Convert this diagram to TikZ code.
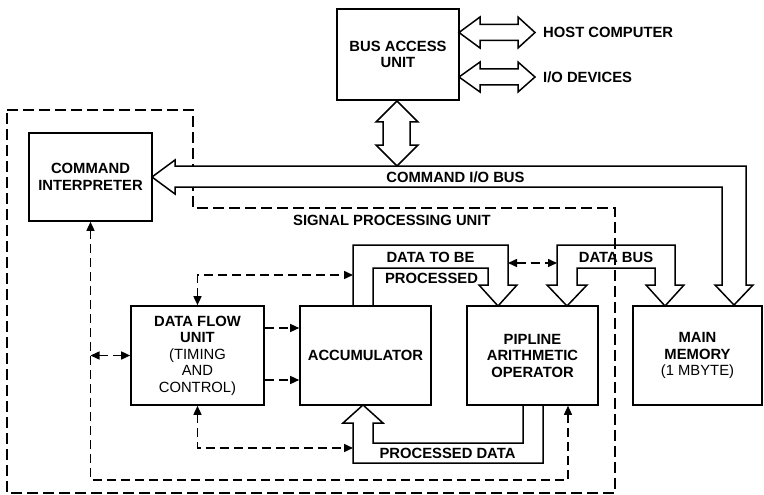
\documentclass[tikz,border=0pt]{standalone}
\usepackage{fontspec}
\setmainfont{Liberation Sans}
\usetikzlibrary{arrows.meta}
\newcommand{\lblf}{\fontsize{14.8}{16.5}\selectfont\bfseries}
\begin{document}
\begin{tikzpicture}[x=1pt,y=-1pt,
  box/.style={draw, line width=1.6pt, inner sep=0pt, align=center, font=\lblf},
  lbl/.style={inner sep=0pt, font=\lblf},
  fat/.style={line width=1.5pt, line join=miter},
  outline/.style={line width=1.5pt, dash pattern=on 11pt off 5pt},
  dar/.style={line width=1.5pt, dash pattern=on 9pt off 5pt, >={Triangle[length=9pt,width=8pt]}}]
\useasboundingbox (0,0) rectangle (764,495);

% signal processing unit outline
\draw[outline] (7,110) -- (193,110) -- (193,208) -- (615,208) -- (615,493) -- (7,493) -- cycle;

% boxes
\node[box, minimum width=122pt, minimum height=91pt] (bau) at (398,54.5) {BUS ACCESS\\UNIT};
\node[box, minimum width=123pt, minimum height=88pt] (ci) at (90.5,177) {COMMAND\\INTERPRETER};
\node[box, minimum width=133pt, minimum height=99pt] (dfu) at (197.5,355.5) {DATA FLOW\\UNIT\\\mdseries (TIMING\\\mdseries AND\\\mdseries CONTROL)};
\node[box, minimum width=131pt, minimum height=99pt] (acc) at (365.5,355.5) {ACCUMULATOR};
\node[box, minimum width=131pt, minimum height=99pt] (pao) at (532.5,355.5) {PIPLINE\\ARITHMETIC\\OPERATOR};
\node[box, minimum width=129pt, minimum height=99pt] (mm) at (697.5,355.5) {MAIN\\MEMORY\\\mdseries (1 MBYTE)};

% command I/O bus
\draw[fat, fill=white] (152,177) -- (175,160) -- (175,166) -- (746,166) -- (746,285) -- (753,285)
  -- (734,305) -- (715,285) -- (722,285) -- (722,187) -- (175,187) -- (175,194) -- cycle;

% bus access double arrows
\draw[fat, fill=white] (397,101) -- (418,122) -- (410,122) -- (410,145) -- (418,145) -- (397,166)
  -- (376,145) -- (383,145) -- (383,122) -- (376,122) -- cycle;
\draw[fat] (459,32.5) -- (480,17) -- (480,24.5) -- (518,24.5) -- (518,17) -- (535,32.5)
  -- (518,48) -- (518,40.5) -- (480,40.5) -- (480,48) -- cycle;
\draw[fat] (459,77) -- (480,62) -- (480,69) -- (518,69) -- (518,62) -- (535,77)
  -- (518,92) -- (518,85) -- (480,85) -- (480,92) -- cycle;

% data to be processed
\coordinate (dtbO) at (353,245);
\coordinate (dtbR) at (508,245);
\draw[fat] (353,306) -- (dtbO) -- (dtbR) -- (508,285) -- (517,285) -- (498,306) -- (479,285)
  -- (488,285) -- (488,268) -- (373,268) -- (373,306);

% data bus
\coordinate (dbL) at (557,245);
\draw[fat] (577,285) -- (587,285) -- (567,306) -- (547,285) -- (557,285) -- (dbL) -- (675,245)
  -- (675,285) -- (684,285) -- (665,306) -- (646,285) -- (655,285) -- (655,268) -- (577,268) -- cycle;

% processed data
\coordinate (pdO) at (353,463);
\draw[fat] (523,405) -- (523,443) -- (373,443) -- (373,423) -- (383,423) -- (363,405)
  -- (343,423) -- (353,423) -- (pdO) -- (543,463) -- (543,405);

% dashed control connectors
\draw[dar,<->] (dfu.north) |- (dtbO |- 0,275);
\draw[dar,<->] (dfu.south) |- (pdO |- 0,448);
\draw[dar,<->] (ci.south |- dfu.west) -- (dfu.west);
\draw[dar,<->] (ci.south) -- (ci.south |- 0,480) -| ([xshift=35.5pt]pao.south);
\draw[dar,->] (dfu.east |- 0,328) -- (acc.west |- 0,328);
\draw[dar,->] (dfu.east |- 0,380) -- (acc.west |- 0,380);
\draw[dar,<->] (dtbR |- 0,263) -- (dbL |- 0,263);

% labels
\node[lbl, anchor=west] (hc) at (543,32.5) {HOST COMPUTER};
\node[lbl, anchor=west] (io) at (543,77) {I/O DEVICES};
\node[lbl] (cbus) at (455.5,177) {COMMAND I/O BUS};
\node[lbl, anchor=west] (spu) at (293,220) {SIGNAL PROCESSING UNIT};
\node[lbl] (dtb1) at (430.5,257) {DATA TO BE};
\node[lbl] (dtb2) at (431.5,278) {PROCESSED};
\node[lbl] (dbus) at (616,257) {DATA BUS};
\node[lbl] (pd) at (447.5,453) {PROCESSED DATA};
\end{tikzpicture}
\end{document}
